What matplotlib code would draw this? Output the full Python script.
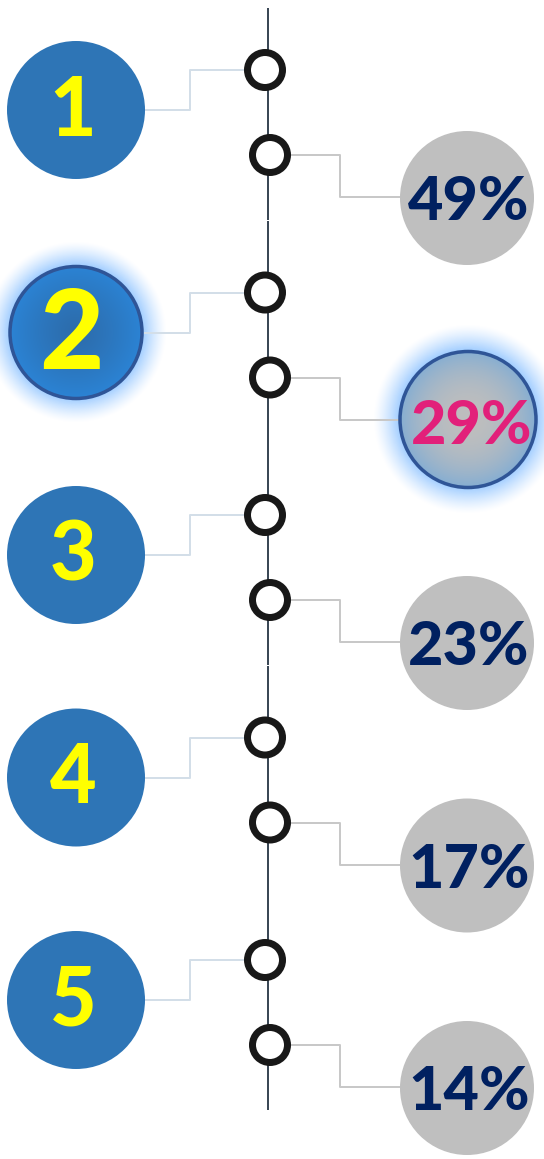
import numpy as np
import matplotlib
matplotlib.use("Agg")
import matplotlib.pyplot as plt
from matplotlib.patches import Circle
from matplotlib.colors import to_rgb

# ---- data ----
step_labels = ["1", "2", "3", "4", "5"]
percent_values = [49, 29, 23, 17, 14]
highlight_index = 1

BLUE = "#2E75B6"
GREY = "#BFBFBF"
NAVY = "#002060"
YELLOW = "#FFFF00"
PINK = "#E2207A"
BORDER = "#2F5597"
SPINE = "#3B4856"
LEFT_CONN = "#D3DEE8"
RIGHT_CONN = "#C8C8C8"

W, H = 544, 1159
fig = plt.figure(figsize=(W / 100, H / 100), dpi=100)
ax = fig.add_axes([0, 0, 1, 1])
ax.set_xlim(0, W)
ax.set_ylim(H, 0)
ax.axis("off")
ax.set_aspect("equal")

PX = 0.72  # points per pixel
FONT = ["Lato", "DejaVu Sans"]
WEIGHT = 900


def glow(cx, cy, r, width=20, color="#9CCBFF"):
    n = 220
    R = r + width
    xs = np.linspace(cx - R, cx + R, n)
    ys = np.linspace(cy - R, cy + R, n)
    X, Y = np.meshgrid(xs, ys)
    d = np.hypot(X - cx, Y - cy)
    a = np.clip(1 - (d - r) / width, 0, 1) ** 1.3
    a[d < r - 2] = 0
    img = np.zeros((n, n, 4))
    img[..., :3] = to_rgb(color)
    img[..., 3] = a * 0.95
    ax.imshow(img, extent=(cx - R, cx + R, cy + R, cy - R), zorder=1,
              interpolation="bilinear")


def radial_fill(cx, cy, r, inner, outer, power=1.5):
    n = 200
    xs = np.linspace(cx - r, cx + r, n)
    ys = np.linspace(cy - r, cy + r, n)
    X, Y = np.meshgrid(xs, ys)
    t = np.clip(np.hypot(X - cx, Y - cy) / r, 0, 1) ** power
    ci = np.array(to_rgb(inner))
    co = np.array(to_rgb(outer))
    img = ci[None, None, :] * (1 - t[..., None]) + co[None, None, :] * t[..., None]
    im = ax.imshow(img, extent=(cx - r, cx + r, cy + r, cy - r), zorder=3,
                   interpolation="bilinear")
    clip = Circle((cx, cy), r, transform=ax.transData)
    im.set_clip_path(clip)


spacing = 222.5
# spine
for i in range(len(step_labels)):
    y0 = 110 + spacing * i
    top = max(8, y0 - 112)
    bot = min(1118, y0 + 110)
    ax.plot([268, 268], [top, bot], color=SPINE, lw=2 * PX, zorder=2,
            solid_capstyle="butt")

for i, (lab, val) in enumerate(zip(step_labels, percent_values)):
    y0 = 110 + spacing * i
    hi = i == highlight_index
    ring_top = (265, y0 - 40)
    ring_bot = (270, y0 + 45)
    grey_c = (467, y0 + 88)

    # connectors
    ax.plot([145, 190, 190, 247], [y0, y0, y0 - 40, y0 - 40],
            color=LEFT_CONN, lw=2 * PX, zorder=2)
    ax.plot([289, 340, 340, 402], [y0 + 45, y0 + 45, y0 + 87, y0 + 87],
            color=RIGHT_CONN, lw=2 * PX, zorder=2)

    # rings
    for c in (ring_top, ring_bot):
        ax.add_patch(Circle(c, 17.5, facecolor="white", edgecolor="#181818",
                            lw=7 * PX, zorder=4))

    # blue number circle
    if hi:
        glow(76, y0, 67, width=24)
        radial_fill(76, y0, 66, "#2D6CAB", "#2B83D4", power=1.2)
        ax.add_patch(Circle((76, y0), 66, facecolor="none", edgecolor=BORDER,
                            lw=3.5 * PX, zorder=4))
        ax.text(71, y0 + 4, lab, color=YELLOW, fontsize=80, fontweight=WEIGHT,
                family=FONT, ha="center", va="center", zorder=5)
    else:
        ax.add_patch(Circle((76, y0), 69, facecolor=BLUE, edgecolor="none",
                            zorder=3))
        ax.text(73, y0 + 2, lab, color=YELLOW, fontsize=58, fontweight=WEIGHT,
                family=FONT, ha="center", va="center", zorder=5)

    # grey percent circle
    if hi:
        glow(468, y0 + 87, 69, width=26)
        radial_fill(468, y0 + 87, 68, "#BEBEBE", "#86AED2", power=2.2)
        ax.add_patch(Circle((468, y0 + 87), 68, facecolor="none",
                            edgecolor=BORDER, lw=3.5 * PX, zorder=4))
        ax.text(472, y0 + 93, f"{val}%", color=PINK, fontsize=44,
                fontweight=WEIGHT, family=FONT, ha="center", va="center",
                zorder=5)
    else:
        ax.add_patch(Circle(grey_c, 67, facecolor=GREY, edgecolor="none",
                            zorder=3))
        ax.text(469, grey_c[1] + 4, f"{val}%", color=NAVY, fontsize=44,
                fontweight=WEIGHT, family=FONT, ha="center", va="center",
                zorder=5)

fig.savefig("out.png", dpi=100, facecolor="white")
